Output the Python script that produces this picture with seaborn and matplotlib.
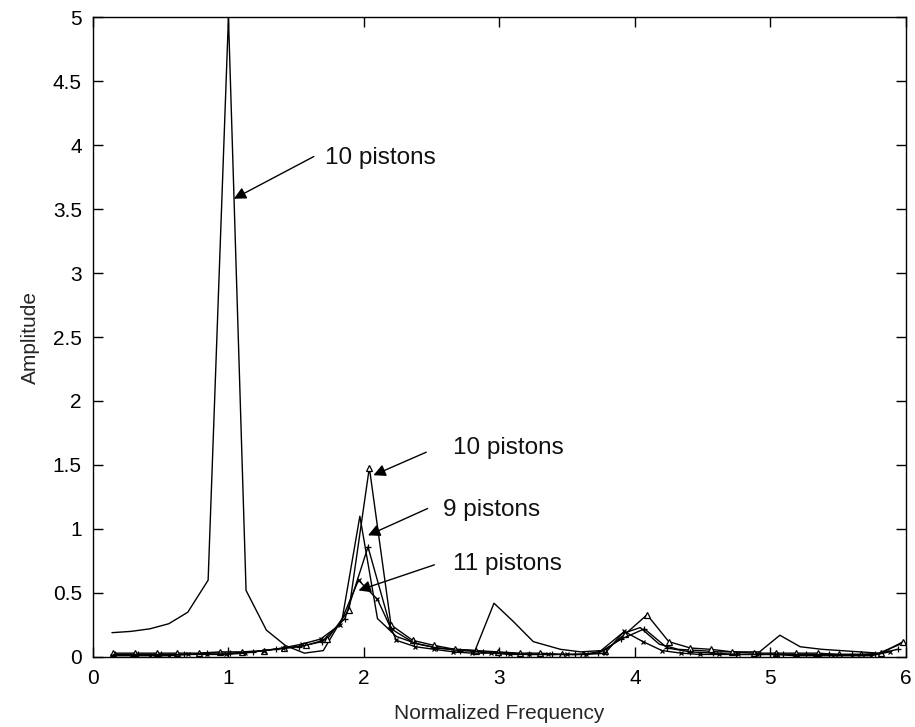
import numpy as np
import pandas as pd
import matplotlib
matplotlib.use("Agg")
import matplotlib.pyplot as plt
import seaborn as sns

# ---- data ----
# 10 pistons, full spectrum (plain line)
freq_a = [0.14, 0.28, 0.42, 0.56, 0.70, 0.85, 1.00, 1.13, 1.28, 1.42, 1.56, 1.70,
          1.84, 1.97, 2.10, 2.24, 2.40, 2.55, 2.68, 2.82, 2.96, 3.10, 3.25, 3.45,
          3.60, 3.75, 3.90, 4.04, 4.18, 4.32, 4.48, 4.62, 4.76, 4.92, 5.07, 5.22,
          5.38, 5.52, 5.66, 5.80, 5.96]
amp_a = [0.19, 0.20, 0.22, 0.26, 0.35, 0.60, 5.00, 0.52, 0.21, 0.09, 0.03, 0.05,
         0.30, 1.10, 0.30, 0.16, 0.10, 0.07, 0.06, 0.05, 0.42, 0.28, 0.12, 0.06,
         0.04, 0.05, 0.18, 0.23, 0.10, 0.06, 0.05, 0.04, 0.04, 0.04, 0.17, 0.08,
         0.06, 0.05, 0.04, 0.03, 0.10]

# 10 pistons (triangle markers)
freq_b = [0.15, 0.31, 0.47, 0.62, 0.78, 0.94, 1.10, 1.26, 1.41, 1.57, 1.73, 1.89,
          2.04, 2.20, 2.36, 2.52, 2.67, 2.83, 2.99, 3.15, 3.30, 3.46, 3.62, 3.78,
          3.93, 4.09, 4.25, 4.41, 4.56, 4.72, 4.88, 5.04, 5.19, 5.35, 5.51, 5.67,
          5.82, 5.98]
amp_b = [0.03, 0.03, 0.03, 0.03, 0.03, 0.04, 0.04, 0.05, 0.07, 0.09, 0.14, 0.37,
         1.48, 0.25, 0.13, 0.09, 0.06, 0.05, 0.04, 0.03, 0.03, 0.02, 0.02, 0.05,
         0.18, 0.33, 0.12, 0.07, 0.06, 0.04, 0.03, 0.03, 0.03, 0.03, 0.02, 0.02,
         0.03, 0.12]

# 9 pistons
freq_c = [0.16, 0.33, 0.50, 0.67, 0.84, 1.01, 1.18, 1.35, 1.52, 1.69, 1.86, 2.03,
          2.20, 2.37, 2.54, 2.71, 2.88, 3.05, 3.22, 3.39, 3.56, 3.73, 3.90, 4.07,
          4.24, 4.41, 4.58, 4.75, 4.92, 5.09, 5.26, 5.43, 5.60, 5.77, 5.94]
amp_c = [0.02, 0.02, 0.02, 0.02, 0.03, 0.03, 0.04, 0.06, 0.08, 0.12, 0.30, 0.86,
         0.22, 0.11, 0.07, 0.05, 0.04, 0.03, 0.02, 0.02, 0.02, 0.03, 0.14, 0.22,
         0.07, 0.04, 0.03, 0.02, 0.02, 0.02, 0.02, 0.02, 0.02, 0.02, 0.06]

# 11 pistons
freq_d = [0.14, 0.28, 0.42, 0.56, 0.70, 0.84, 0.98, 1.12, 1.26, 1.40, 1.54, 1.68,
          1.82, 1.96, 2.10, 2.24, 2.38, 2.52, 2.66, 2.80, 2.94, 3.08, 3.22, 3.36,
          3.50, 3.64, 3.78, 3.92, 4.06, 4.20, 4.34, 4.48, 4.62, 4.76, 4.90, 5.04,
          5.18, 5.32, 5.46, 5.60, 5.74, 5.88]
amp_d = [0.01, 0.01, 0.01, 0.01, 0.02, 0.02, 0.02, 0.03, 0.05, 0.07, 0.10, 0.14,
         0.25, 0.60, 0.45, 0.13, 0.08, 0.06, 0.04, 0.03, 0.03, 0.02, 0.02, 0.02,
         0.02, 0.02, 0.03, 0.20, 0.12, 0.05, 0.03, 0.02, 0.02, 0.02, 0.02, 0.02,
         0.01, 0.01, 0.01, 0.01, 0.01, 0.04]

labels = ["10 pistons", "10 pistons", "9 pistons", "11 pistons"]
label_pos = [(1.71, 3.9), (2.66, 1.63), (2.58, 1.15), (2.66, 0.73)]
arrow_tail = [(1.63, 3.91), (2.46, 1.6), (2.47, 1.16), (2.52, 0.72)]
arrow_tip = [(1.04, 3.58), (2.07, 1.42), (2.03, 0.95), (1.96, 0.52)]

xticks = [0, 1, 2, 3, 4, 5, 6]
yticks = [0, 0.5, 1, 1.5, 2, 2.5, 3, 3.5, 4, 4.5, 5]

# ---- plot ----
sns.set_style("ticks")
plt.rcParams['font.family'] = ['Liberation Sans', 'DejaVu Sans']

fig = plt.figure(figsize=(9.15, 7.27), dpi=100)
ax = fig.add_axes([0.1016, 0.0963, 0.8884, 0.8803])

lw = 1.0
sns.lineplot(x=freq_a, y=amp_a, ax=ax, color='black', lw=lw, sort=False)
sns.lineplot(x=freq_b, y=amp_b, ax=ax, color='black', lw=lw, sort=False,
             marker='^', markersize=5, markerfacecolor='white',
             markeredgecolor='black', markeredgewidth=0.9)
sns.lineplot(x=freq_c, y=amp_c, ax=ax, color='black', lw=lw, sort=False,
             marker='+', markersize=5, markeredgecolor='black', markeredgewidth=0.9)
sns.lineplot(x=freq_d, y=amp_d, ax=ax, color='black', lw=lw, sort=False,
             marker='x', markersize=3.5, markeredgecolor='black', markeredgewidth=0.9)

for lab, pos, tail, tip in zip(labels, label_pos, arrow_tail, arrow_tip):
    ax.text(pos[0], pos[1], lab, fontsize=17.5, va='center', ha='left', color='#111111')
    ax.annotate("", xy=tip, xytext=tail,
                arrowprops=dict(arrowstyle='-|>', color='black', lw=1.0,
                                mutation_scale=18, shrinkA=0, shrinkB=0))

ax.set_xlim(0, 6)
ax.set_ylim(0, 5)
ax.set_xticks(xticks)
ax.set_yticks(yticks)
ax.set_xticklabels([f"{t:g}" for t in xticks])
ax.set_yticklabels([f"{t:g}" for t in yticks])
ax.tick_params(direction='in', length=7, width=1, top=True, right=True,
               labelsize=15, colors='black')
ax.tick_params(axis='x', pad=9)
ax.tick_params(axis='y', pad=8)
for s in ax.spines.values():
    s.set_visible(True)
    s.set_color('black')
    s.set_linewidth(1.0)
ax.set_xlabel("Normalized Frequency", fontsize=15, labelpad=11)
ax.set_ylabel("Amplitude", fontsize=15, labelpad=9)

fig.savefig("out.png", dpi=100)
